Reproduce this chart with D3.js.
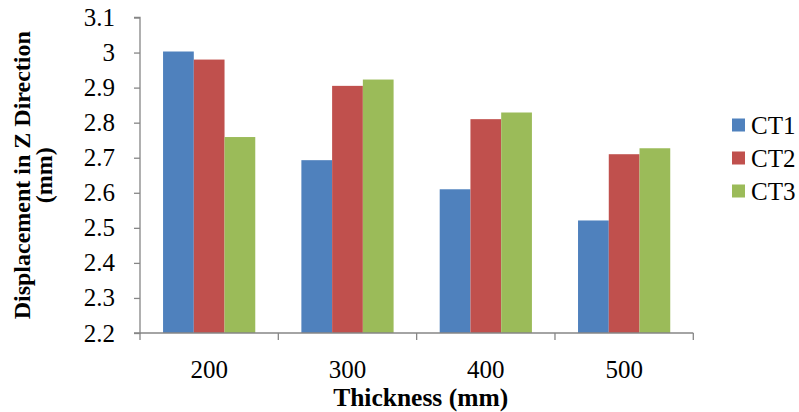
<!DOCTYPE html>
<html><head><meta charset="utf-8">
<script src="https://cdn.jsdelivr.net/npm/d3@7"></script>
<style>body{margin:0;background:#fff;} svg{display:block;} text{font-family:"Liberation Serif","Times New Roman",serif;}</style>
</head><body>
<svg id="chart" width="799" height="412"></svg>
<script>
const categories = ["200", "300", "400", "500"];
const seriesNames = ["CT1", "CT2", "CT3"];
const ct1 = [3.003, 2.693, 2.61, 2.521];
const ct2 = [2.98, 2.905, 2.81, 2.71];
const ct3 = [2.759, 2.923, 2.829, 2.727];
const yTicks = [2.2, 2.3, 2.4, 2.5, 2.6, 2.7, 2.8, 2.9, 3, 3.1];
const colors = ["#4F81BD", "#C0504D", "#9BBB59"];

const seriesValues = [ct1, ct2, ct3];
const svg = d3.select("#chart");
const font = '"Liberation Serif","Times New Roman",serif';
const fs = 25;
const plotLeft = 140, plotRight = 693.3, plotTop = 17.5, plotBottom = 333;

const x = d3.scaleBand().domain(categories).range([plotLeft, plotRight]).paddingInner(0).paddingOuter(0);
const y = d3.scaleLinear().domain([2.2, 3.1]).range([plotBottom, plotTop]);
const groupW = x.bandwidth();
const barW = groupW / 4.5;
const xs = d3.scaleBand().domain(seriesNames).range([groupW * 0.75 / 4.5, groupW * 0.75 / 4.5 + 3 * barW]);

const g = svg.append("g");
seriesNames.forEach((s, si) => {
  g.selectAll(null).data(categories).enter().append("rect")
    .attr("x", d => x(d) + xs(s))
    .attr("y", (d, i) => y(seriesValues[si][i]))
    .attr("width", xs.bandwidth())
    .attr("height", (d, i) => plotBottom - y(seriesValues[si][i]))
    .attr("fill", colors[si]);
});

const yAxis = d3.axisLeft(y).tickValues(yTicks).tickSize(6).tickPadding(19).tickFormat(d => d3.format("")(d));
const ya = svg.append("g").attr("transform", `translate(${plotLeft},0)`).call(yAxis)
  .attr("font-family", null).attr("font-size", null);
ya.select(".domain").attr("stroke", "#868686").attr("stroke-width", 1.3).attr("d", `M-6,${plotTop}H0V${plotBottom}H-6`);
ya.selectAll(".tick line").attr("stroke", "#868686").attr("stroke-width", 1.3);
ya.selectAll("text").style("font-family", font).style("font-size", fs + "px").attr("fill", "#000");

const xAxis = d3.axisBottom(x).tickSize(0).tickPadding(27);
const xa = svg.append("g").attr("transform", `translate(0,${plotBottom})`).call(xAxis)
  .attr("font-family", null).attr("font-size", null);
xa.select(".domain").attr("stroke", "#868686").attr("stroke-width", 1.3).attr("d", `M${plotLeft},0H${plotRight}`);
xa.selectAll("text").style("font-family", font).style("font-size", fs + "px").attr("fill", "#000");
const boundaries = categories.map(c => x(c)).concat([plotRight]);
xa.selectAll(".bt").data(boundaries).enter().append("line")
  .attr("x1", d => d).attr("x2", d => d).attr("y1", 0).attr("y2", 7)
  .attr("stroke", "#868686").attr("stroke-width", 1.3);

svg.append("text").attr("x", (plotLeft + plotRight) / 2 + 4).attr("y", 406)
  .attr("text-anchor", "middle").style("font-family", font).attr("font-weight", "bold")
  .style("font-size", "25.5px").text("Thickness (mm)");
const yt = svg.append("text").attr("transform", `translate(22,${(plotTop + plotBottom) / 2}) rotate(-90)`)
  .attr("text-anchor", "middle").style("font-family", font).attr("font-weight", "bold").style("font-size", "24px");
yt.append("tspan").attr("x", 0).attr("dy", "0.35em").text("Displacement in Z Direction");
yt.append("tspan").attr("x", 0).attr("dy", "0.9em").text("(mm)");

const leg = svg.append("g");
seriesNames.forEach((s, i) => {
  const cy = 125 + i * 33;
  leg.append("rect").attr("x", 732).attr("y", cy - 6.5).attr("width", 13).attr("height", 13).attr("fill", colors[i]);
  leg.append("text").attr("x", 751).attr("y", cy).attr("dy", "0.35em")
    .style("font-family", font).style("font-size", fs + "px").attr("fill", "#000").text(s);
});
</script>
</body></html>
